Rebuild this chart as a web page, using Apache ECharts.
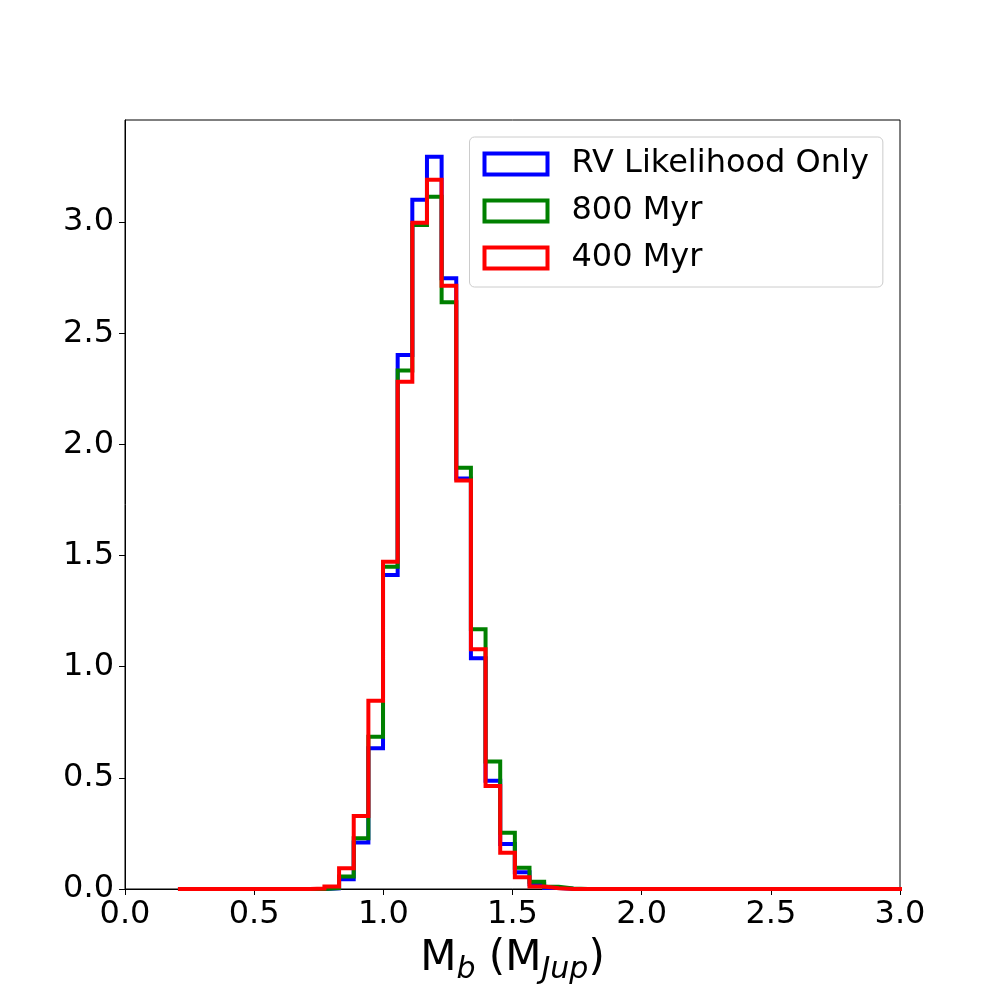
<!DOCTYPE html>
<html>
<head>
<meta charset="utf-8">
<title>M_b histogram</title>
<script src="https://cdn.jsdelivr.net/npm/echarts@6/dist/echarts.min.js"></script>
<style>
  html, body { margin: 0; padding: 0; background: #fff; }
  #main { width: 1000px; height: 1000px; }
</style>
</head>
<body>
<div id="main"></div>
<script>
// histogram bins (50 bins of equal width starting at binStart)
var binStart = 0.205;
var binWidth = 0.0567;

// bin heights (density)
var rvOnly = [0, 0, 0, 0, 0, 0, 0, 0, 0, 0,
  0.003, 0.044, 0.209, 0.633, 1.412, 2.402, 3.100, 3.294, 2.747, 1.847,
  1.038, 0.487, 0.202, 0.075, 0.021, 0.004, 0.001, 0, 0, 0,
  0, 0, 0, 0, 0, 0, 0, 0, 0, 0,
  0, 0, 0, 0, 0, 0, 0, 0, 0, 0];
var myr800 = [0, 0, 0, 0, 0, 0, 0, 0, 0, 0,
  0.004, 0.056, 0.228, 0.685, 1.450, 2.332, 2.987, 3.114, 2.639, 1.895,
  1.168, 0.574, 0.253, 0.096, 0.033, 0.010, 0.002, 0, 0, 0,
  0, 0, 0, 0, 0, 0, 0, 0, 0, 0,
  0, 0, 0, 0, 0, 0, 0, 0, 0, 0];
var myr400 = [0, 0, 0, 0, 0, 0, 0, 0, 0, 0.002,
  0.011, 0.093, 0.328, 0.847, 1.472, 2.282, 2.997, 3.190, 2.714, 1.837,
  1.078, 0.463, 0.163, 0.053, 0.011, 0.003, 0, 0, 0, 0,
  0, 0, 0, 0, 0, 0, 0, 0, 0, 0,
  0, 0, 0, 0, 0, 0, 0, 0, 0, 0];

var seriesNames = ['RV Likelihood Only', '800 Myr', '400 Myr'];
var seriesColors = ['#0000ff', '#008000', '#ff0000'];
var xTicks = [0, 0.5, 1.0, 1.5, 2.0, 2.5, 3.0];
var yTicks = [0, 0.5, 1.0, 1.5, 2.0, 2.5, 3.0];

// turn bin heights into a step outline like histtype='step'
function stepOutline(heights) {
  var pts = [[binStart, 0]];
  for (var i = 0; i < heights.length; i++) {
    var e0 = binStart + i * binWidth;
    var e1 = binStart + (i + 1) * binWidth;
    pts.push([e0, heights[i]]);
    pts.push([e1, heights[i]]);
  }
  pts.push([binStart + heights.length * binWidth, 0]);
  return pts;
}

var chart = echarts.init(document.getElementById('main'));
var font = 'DejaVu Sans';

var allData = [rvOnly, myr800, myr400];
var series = [];
for (var s = 0; s < allData.length; s++) {
  series.push({
    name: seriesNames[s],
    type: 'line',
    data: stepOutline(allData[s]),
    showSymbol: false,
    symbol: 'none',
    clip: true,
    lineStyle: { color: seriesColors[s], width: 4, join: 'miter' },
    itemStyle: { color: seriesColors[s] }
  });
}

var option = {
  animation: false,
  backgroundColor: '#fff',
  grid: {
    left: 125, width: 775, top: 120, height: 769,
    show: true, borderColor: '#000', borderWidth: 1,
    containLabel: false
  },
  legend: {
    orient: 'vertical',
    left: 469.5,
    top: 137,
    padding: [11, 14, 13, 13],
    itemWidth: 63,
    itemHeight: 21,
    itemGap: 15,
    icon: 'rect',
    selectedMode: false,
    backgroundColor: '#fff',
    borderColor: '#cccccc',
    borderWidth: 1,
    borderRadius: 5,
    textStyle: {
      fontFamily: font, fontSize: 32, color: '#000', lineHeight: 32,
      padding: [0, 0, 0, 19]
    },
    data: seriesNames.map(function (n, i) {
      return {
        name: n,
        itemStyle: { color: 'transparent', borderColor: seriesColors[i], borderWidth: 4 }
      };
    })
  },
  xAxis: {
    type: 'value',
    min: 0, max: 3.0, interval: 0.5,
    name: '{m|M}{s|b}{m| (M}{s|Jup}{m|)}',
    nameLocation: 'middle',
    nameGap: 49,
    nameTextStyle: {
      rich: {
        m: { fontFamily: font, fontSize: 42, color: '#000', verticalAlign: 'top', lineHeight: 42 },
        s: { fontFamily: font, fontSize: 30, fontStyle: 'italic', color: '#000', verticalAlign: 'bottom', lineHeight: 47 }
      }
    },
    axisLine: { show: true, lineStyle: { color: '#000', width: 1 } },
    axisTick: { show: true, inside: false, length: 6, lineStyle: { color: '#000', width: 1 }, customValues: xTicks },
    axisLabel: {
      fontFamily: font, fontSize: 32, color: '#000', margin: 10,
      customValues: xTicks,
      formatter: function (v) { return v.toFixed(1); }
    },
    splitLine: { show: false }
  },
  yAxis: {
    type: 'value',
    min: 0, max: 3.459,
    axisLine: { show: true, lineStyle: { color: '#000', width: 1 } },
    axisTick: { show: true, inside: false, length: 6, lineStyle: { color: '#000', width: 1 }, customValues: yTicks },
    axisLabel: {
      fontFamily: font, fontSize: 32, color: '#000', margin: 11,
      customValues: yTicks,
      formatter: function (v) { return v.toFixed(1); }
    },
    splitLine: { show: false }
  },
  series: series
};

chart.setOption(option);
</script>
</body>
</html>
